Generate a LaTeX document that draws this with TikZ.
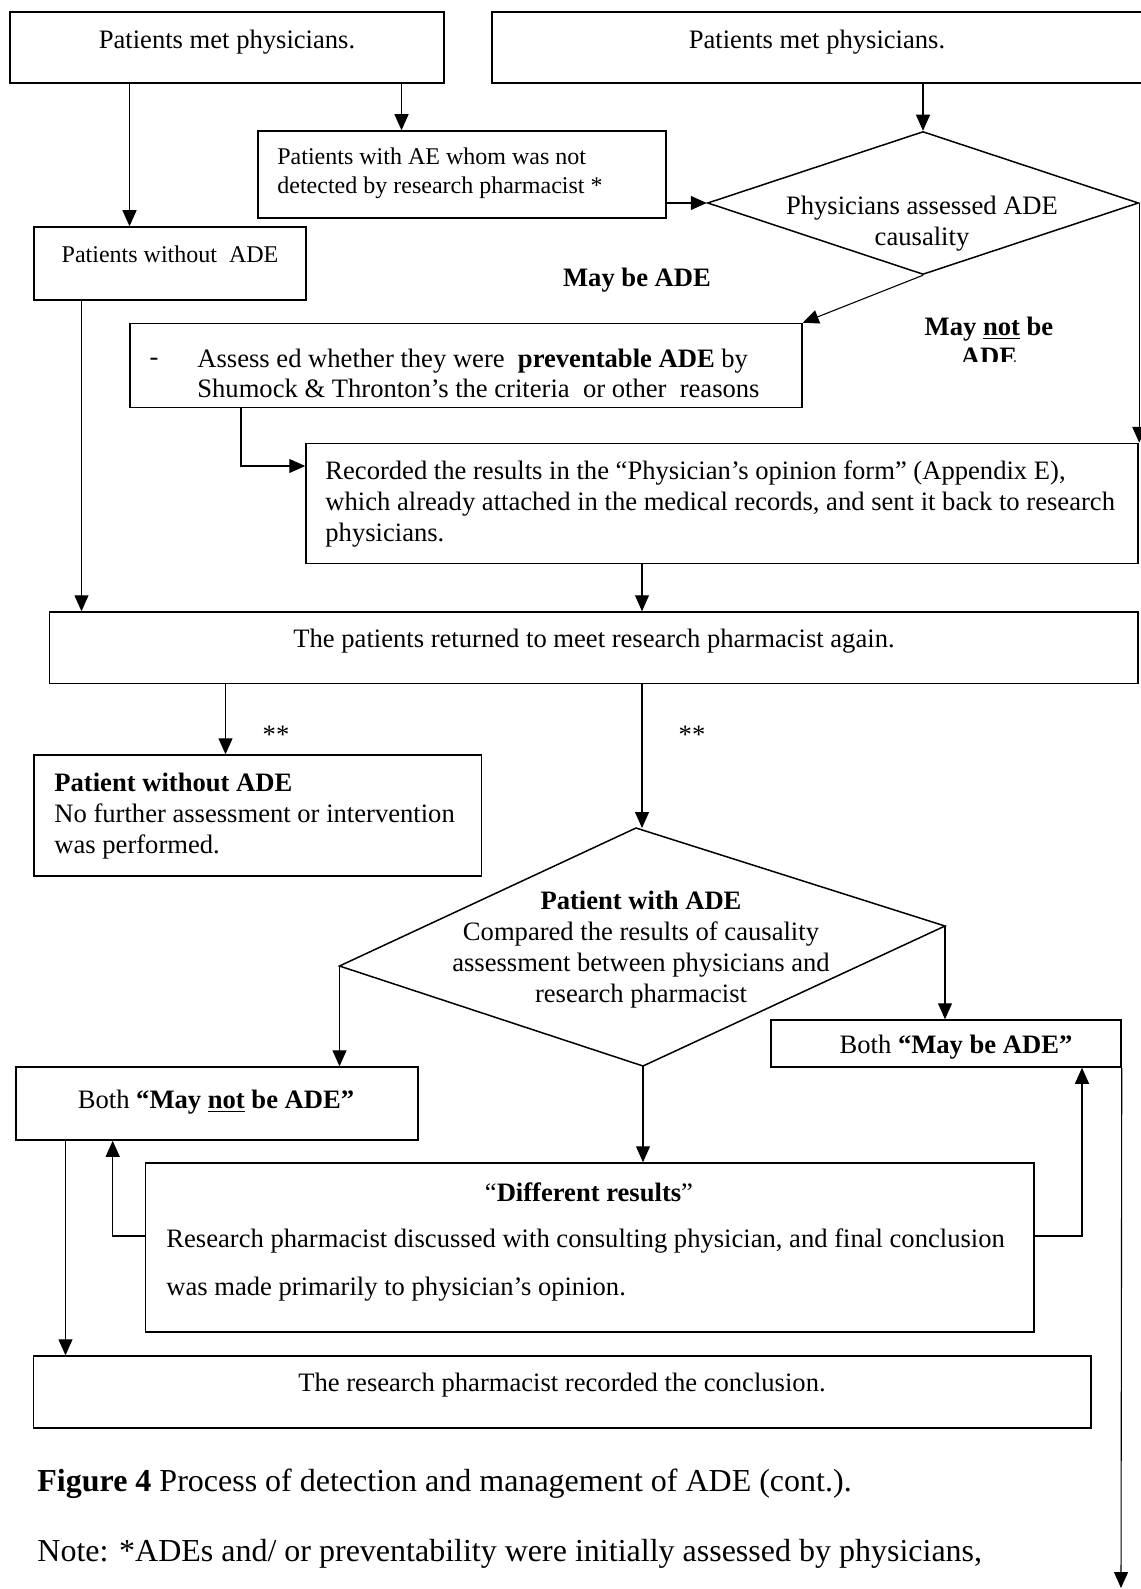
\documentclass[tikz,border=0pt]{standalone}
\usepackage{fontspec}
\setmainfont{Liberation Serif}
\usetikzlibrary{positioning,arrows.meta,calc,fit,shapes.geometric}

\begin{document}
\begin{tikzpicture}[
    x=0.5pt, y=-0.5pt,
    font=\fontsize{13.3}{15.5}\selectfont,
    proc/.style={draw, line width=0.75pt, inner sep=0pt},
    dec/.style={draw, diamond, line width=0.75pt, inner sep=0pt},
    lbl/.style={inner sep=0pt, align=left, yshift=-1pt},
    small/.style={font=\fontsize{12}{14.5}\selectfont},
    tag/.style={inner sep=0pt, align=center, yshift=-1pt, font=\fontsize{13.3}{15}\selectfont\bfseries},
    flow/.style={-{Triangle[length=8pt,width=7pt]}, line width=0.55pt},
    capt/.style={inner sep=0pt, anchor=west, yshift=-1pt, font=\fontsize{16}{19}\selectfont},
  ]
  \useasboundingbox (0,0) rectangle (1140,1589);

  % ---------------------------- upper part ------------------------------
  \node[proc, fit={(10,12)(444,83)}] (pA) {};
  \node[lbl] (pA-t) at (227,40) {Patients met physicians.};
  \node[proc, fit={(492,12)(1146,83)}] (pB) {};
  \node[lbl] (pB-t) at (817,40) {Patients met physicians.};

  \node[proc, fit={(258,131)(666,218)}] (pC) {};
  \node[lbl, small, anchor=west] (pC-t) at (277,171.5)
    {Patients with AE whom was not\\detected by research pharmacist *};

  \node[dec, minimum width=215.5pt, minimum height=71.5pt] (pD1) at (923,203) {};
  \node[lbl, align=center] (pD1-t) at (922,222) {Physicians assessed ADE\\causality};

  \node[proc, fit={(34,227)(306,300)}] (pE) {};
  \node[lbl, small] (pE-t) at (170,252) {Patients without~ ADE};

  \node[tag] (yes1) at (637,278) {May be ADE};
  \begin{scope}
    \clip (900,300) rectangle (1080,361);
    \node[tag] (no1) at (989,339) {May \underline{not} be\\ADE};
  \end{scope}

  \node[proc, fit={(130,323.5)(802,407.5)}] (pF) {};
  \node[lbl] (pF-d) at (154,360) {-};
  \node[lbl, anchor=west, font=\fontsize{13.3}{15}\selectfont] (pF-t) at (197,371)
    {Assess ed whether they were~ \textbf{preventable ADE} by\\
     Shumock \& Thronton’s the criteria~ or other~ reasons};

  \node[proc, fit={(306,443.5)(1138,563.5)}] (pG) {};
  \node[lbl, anchor=west] (pG-t) at (325,502)
    {Recorded the results in the “Physician’s opinion form” (Appendix E),\\
     which already attached in the medical records, and sent it back to research\\
     physicians.};

  \node[proc, fit={(49.5,612)(1138,683.5)}] (pH) {};
  \node[lbl] (pH-t) at (594,639) {The patients returned to meet research pharmacist again.};

  \draw[flow] (129.5,0 |- pA.south) -- (129.5,0 |- pE.north);
  \draw[flow] (401.5,0 |- pA.south) -- (401.5,0 |- pC.north);
  \draw[flow] (pD1.north |- pB.south) -- (pD1.north);
  \draw[flow] (pC.east |- pD1.west) -- (pD1.west);
  \draw[flow] (pD1.south) -- (pF.north east);
  \draw[flow] (pD1.east) -- (pD1.east |- pG.north);
  \draw[flow] (241,0 |- pF.south) |- (pG.west |- 0,466);
  \draw[flow] (81.5,0 |- pE.south) -- (81.5,0 |- pH.north);
  \draw[flow] (642,0 |- pG.south) -- (642,0 |- pH.north);

  % ---------------------------- lower part ------------------------------
  \node[proc, fit={(34,755)(481.5,876)}] (pI) {};
  \node[lbl, anchor=west] (pI-t) at (54,814)
    {\textbf{Patient without ADE}\\No further assessment or intervention\\was performed.};
  \node[lbl] (st1) at (276,733) {**};
  \node[lbl] (st2) at (692,733) {**};

  \coordinate (d2t) at (636,828);
  \coordinate (d2r) at (945,926);
  \coordinate (d2b) at (643,1066);
  \coordinate (d2l) at (339.5,966);
  \draw[line width=0.75pt] (d2t) -- (d2r) -- (d2b) -- (d2l) -- cycle;
  \node[lbl, align=center] (pD2-t) at (641,948)
    {\textbf{Patient with ADE}\\Compared the results of causality\\
     assessment between physicians and\\research pharmacist};

  \node[proc, fit={(16,1067)(418,1140)}] (pJ) {};
  \node[lbl] (pJ-t) at (216,1100) {Both \textbf{“May \underline{not} be ADE”}};
  \node[proc, fit={(771,1020)(1121,1067)}] (pK) {};
  \node[lbl] (pK-t) at (956,1045) {Both \textbf{“May be ADE”}};

  \node[proc, fit={(145.5,1163)(1034,1332)}] (pL) {};
  \node[lbl] (pL-t) at (589,1190) {“\textbf{Different results}”};
  \node[lbl, anchor=west, font=\fontsize{13.3}{24}\selectfont] (pL-b) at (166,1263)
    {Research pharmacist discussed with consulting physician, and final conclusion\\
     was made primarily to physician’s opinion.};

  \node[proc, fit={(33.5,1356)(1091,1428)}] (pM) {};
  \node[lbl] (pM-t) at (562,1383) {The research pharmacist recorded the conclusion.};
  \coordinate (kend) at (1121,1588);

  \draw[flow] (225.5,0 |- pH.south) -- (225.5,0 |- pI.north);
  \draw[flow] (642,0 |- pH.south) -- (642,0 |- d2t);
  \draw[flow] (d2l) -- (d2l |- pJ.north);
  \draw[flow] (d2r) -- (d2r |- pK.north);
  \draw[flow] (d2b) -- (d2b |- pL.north);
  \draw[flow] (pL.west |- 0,1236) -| (112.7,0 |- pJ.south);
  \draw[flow] (pL.east |- 0,1236) -| (1082,0 |- pK.south);
  \draw[flow] (65.5,0 |- pJ.south) -- (65.5,0 |- pM.north);
  \draw[flow] (pK.south east) -- (kend);

  % ---------------------------- caption ---------------------------------
  \node[capt] (fig) at (37,1482) {\textbf{Figure 4} Process of detection and management of ADE (cont.).};
  \node[capt] (note) at (37,1552) {Note: *ADEs and/ or preventability were initially assessed by physicians,};
\end{tikzpicture}
\end{document}
